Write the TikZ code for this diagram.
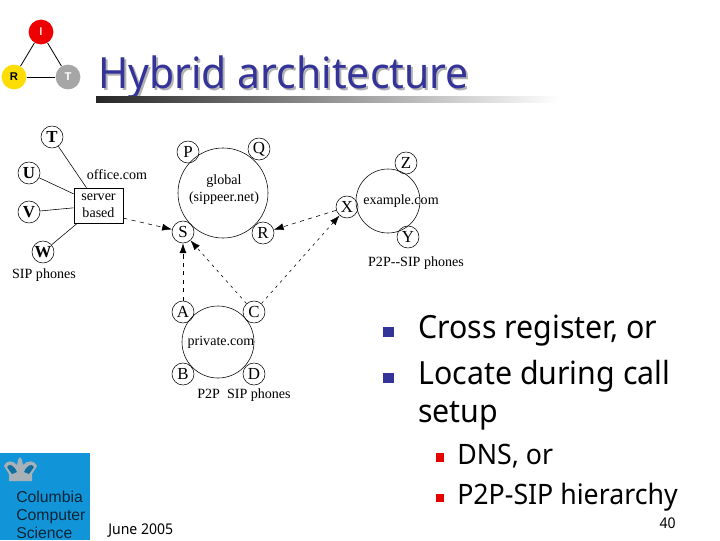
\documentclass[tikz,border=0pt]{standalone}
\usepackage{fontspec}
\setmainfont[FakeStretch=0.95]{Noto Sans}
\newfontfamily\figfont{Liberation Serif}
\newfontfamily\logofont{Liberation Sans}
\usetikzlibrary{arrows.meta}
\definecolor{titleblue}{HTML}{333399}
\definecolor{logoblue}{HTML}{1295D8}
\definecolor{crowngrey}{HTML}{A9B1B8}
\tikzset{
  phone/.style={draw, circle, inner sep=0pt, minimum size=0.55cm, font=\figfont\fontsize{12}{12}\selectfont},
  ring/.style={draw, circle, inner sep=0pt},
  figlabel/.style={inner sep=0pt, align=center, font=\figfont\fontsize{10}{12}\selectfont},
  reg/.style={dashed, -{Latex[length=7pt,width=5pt]}},
  regdot/.style={dash pattern=on 2pt off 3pt, -{Latex[length=7pt,width=5pt]}},
  itembig/.style={inner sep=0pt, anchor=base west, font=\fontsize{22.7}{27}\selectfont},
  itemsmall/.style={inner sep=0pt, anchor=base west, font=\fontsize{20}{24}\selectfont},
  logotext/.style={inner sep=0pt, anchor=base west, text=logoblue!25!black, font=\logofont\fontsize{11.2}{12}\selectfont},
  irt/.style={circle, inner sep=0pt, minimum size=0.62cm, font=\logofont\bfseries\fontsize{8}{8}\selectfont}
}
\begin{document}
\begin{tikzpicture}[x=0.025cm, y=-0.025cm]
  \useasboundingbox (0,0) rectangle (720,540);
  % IRT triangle
  \node[irt, fill=red!93!black, text=white!85!red] (I) at (41,32) {I};
  \node[irt, fill=yellow!80!orange] (Rr) at (14,77) {R};
  \node[irt, fill=black!35, text=white] (Tt) at (68,77) {T};
  \draw[semithick] (I) -- (Rr);
  \draw[semithick] (I) -- (Tt);
  \draw[semithick] (Rr) -- (Tt);
  % Title
  \node[inner sep=0pt, anchor=base west, text=black!30, font=\fontsize{30.6}{37}\selectfont] (titleshadow) at (100,90) {Hybrid architecture};
  \node[inner sep=0pt, anchor=base west, text=titleblue, font=\fontsize{30.6}{37}\selectfont] (title) at (98,88) {Hybrid architecture};
  \shade[left color=black!85, right color=white] (96,96) rectangle (560,102);
  % Left-hand phones
  \node[draw, inner sep=0pt, minimum width=1.225cm, minimum height=0.875cm, align=center, font=\figfont\fontsize{10}{12}\selectfont] (server) at (98.5,205.5) {server\\based};
  \node[phone] (T) at (52,137) {\textbf{T}};
  \node[phone] (U) at (29,173) {\textbf{U}};
  \node[phone] (V) at (29,212) {\textbf{V}};
  \node[phone] (W) at (43,252) {\textbf{W}};
  \draw (T) -- (server);
  \draw (U) -- (server);
  \draw (V) -- (server);
  \draw (W) -- (server);
  \node[figlabel] (office) at (117,175) {office.com};
  \node[figlabel] (sipleft) at (44,275) {SIP phones};
  % Global ring
  \node[ring, minimum size=2.25cm] (global) at (223,193) {};
  \node[figlabel] (globaltext) at (224,190) {global\\(sippeer.net)};
  \node[phone] (P) at (188,152) {P};
  \node[phone] (Q) at (259,149) {Q};
  \node[phone] (S) at (183,232) {S};
  \node[phone] (R) at (263,233) {R};
  % Example ring
  \node[ring, minimum size=1.6cm] (example) at (388,201) {};
  \node[figlabel] (exampletext) at (401,201) {example.com};
  \node[phone] (X) at (347,207) {X};
  \node[phone] (Z) at (406,163) {Z};
  \node[phone] (Y) at (408,237) {Y};
  \node[figlabel] (sipright) at (416,263) {P2P--SIP phones};
  % Private ring
  \node[ring, minimum size=1.8cm] (private) at (218,342) {};
  \node[figlabel] (privatetext) at (221,342) {private.com};
  \node[phone] (A) at (183,312) {A};
  \node[phone] (C) at (254,312) {C};
  \node[phone] (B) at (183,374) {B};
  \node[phone] (D) at (254,374) {D};
  \node[figlabel] (sipbottom) at (244,395) {P2P\hspace{0.5em}SIP phones};
  % Registration arrows
  \draw[reg] (server.-27) -- (S);
  \draw[reg] (A) -- (S);
  \draw[regdot] (C) -- (S);
  \draw[regdot] (C) -- (X);
  \draw[reg] (X) -- (R);
  % Bullets
  \fill[titleblue] (383,327) rectangle (394,337);
  \fill[titleblue] (383,373) rectangle (394,383);
  \node[itembig] (cross) at (418,338) {Cross register, or};
  \node[itembig] (locate) at (418,384) {Locate during call};
  \node[itembig] (setup) at (418,422) {setup};
  \fill[red!90!black] (436,453) rectangle (444,462);
  \fill[red!90!black] (436,494) rectangle (444,502);
  \node[itemsmall] (dns) at (457,464) {DNS, or};
  \node[itemsmall] (hier) at (457,504) {P2P-SIP hierarchy};
  % Logo
  \fill[logoblue] (0,453) rectangle (90,540);
  \fill[crowngrey] (9,481) -- (9,474) -- (4,466) .. controls (6,460) and (13,460) .. (17,465) -- (18,460) -- (20,457) -- (22,460) -- (23,465) .. controls (27,460) and (35,460) .. (37,466) -- (32,474) -- (32,481) -- cycle;
  \fill[logoblue!75!black] (12,474) -- (7,467) .. controls (9,463) and (14,465) .. (17,472) -- cycle;
  \fill[logoblue!75!black] (29,474) -- (34,467) .. controls (32,463) and (27,465) .. (24,472) -- cycle;
  \node[logotext] (logoa) at (16,502) {Columbia};
  \node[logotext] (logob) at (16,520) {Computer};
  \node[logotext] (logoc) at (16,538) {Science};
  % Footer
  \node[inner sep=0pt, anchor=base west, font=\fontsize{10.5}{12}\selectfont] (date) at (108,534) {June 2005};
  \node[inner sep=0pt, anchor=base east, font=\fontsize{10.5}{12}\selectfont] (page) at (676,528) {40};
\end{tikzpicture}
\end{document}
